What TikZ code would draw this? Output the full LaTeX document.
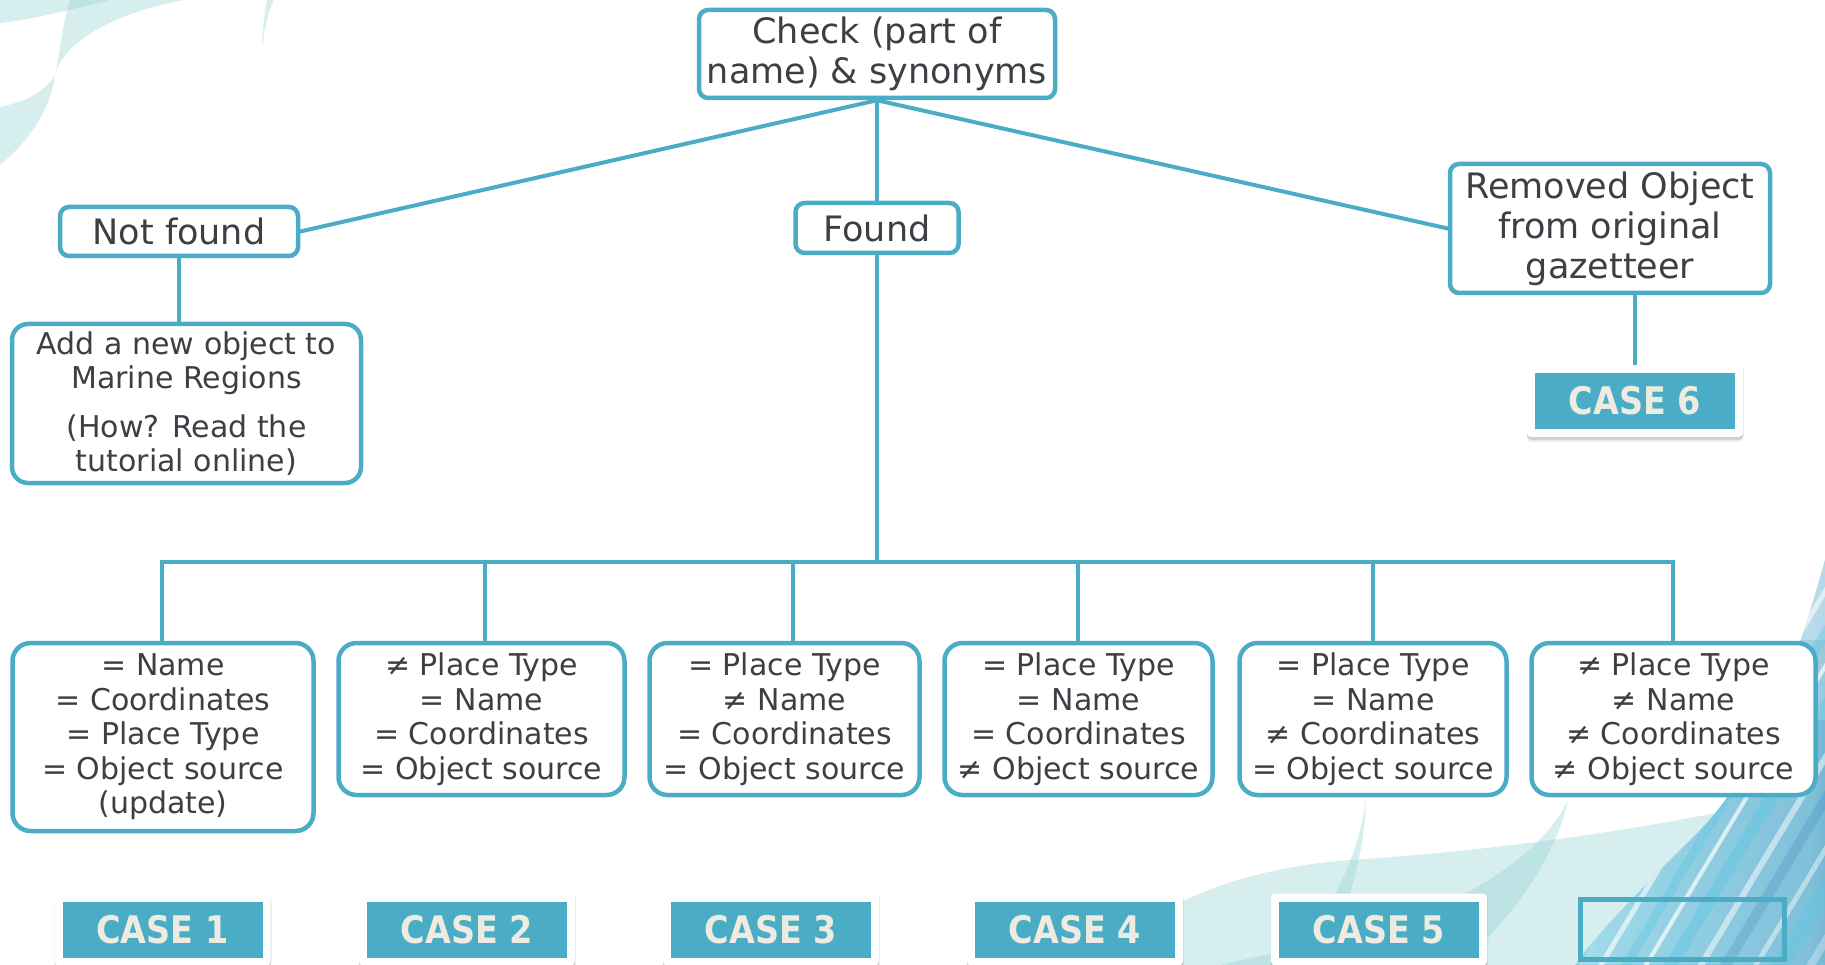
\documentclass[tikz,border=0pt]{standalone}
\usepackage{fontspec}
\setmainfont{DejaVu Sans}
\newfontfamily\badgefont[FakeStretch=0.88]{DejaVu Sans}
\definecolor{teal5}{HTML}{4BACC6}
\definecolor{ink}{HTML}{3C3F44}
\definecolor{cream}{HTML}{EEECE1}
\definecolor{wave}{HTML}{8CCFD0}
\definecolor{deepblue}{HTML}{2674AD}
\definecolor{midblue}{HTML}{9ED9E8}
\definecolor{cyanline}{HTML}{5CC8E2}
\pgfdeclarehorizontalshading{streakshade}{100bp}{color(0bp)=(white); color(30bp)=(midblue); color(72bp)=(midblue!75!deepblue); color(100bp)=(deepblue)}
\pgfdeclarelayer{backdrop}
\pgfdeclarelayer{wires}
\pgfsetlayers{backdrop,wires,main}
\begin{document}
\begin{tikzpicture}[x=1pt,y=-1pt,
  box/.style={draw=teal5, line width=4.5pt, fill=white, text=ink, align=center, inner sep=0pt},
  topbox/.style={box, rounded corners=9pt, font=\fontsize{35}{40}\selectfont},
  addbox/.style={box, rounded corners=16pt, font=\fontsize{30}{34}\selectfont},
  leafbox/.style={box, rounded corners=18pt, font=\fontsize{30}{34.5}\selectfont},
  wire/.style={draw=teal5, line width=4pt, line cap=rect},
  frame/.style={fill=white, rounded corners=4pt, minimum width=216pt, minimum height=72pt, inner sep=0pt,
    preaction={fill=black, fill opacity=0.07, transform canvas={yshift=-5pt}},
    preaction={fill=black, fill opacity=0.10, transform canvas={yshift=-3pt}},
    preaction={fill=black, fill opacity=0.08, transform canvas={xshift=1pt,yshift=-1pt}}},
  badge/.style={fill=teal5, text=cream, minimum width=200pt, minimum height=56pt, inner sep=0pt,
    font=\badgefont\bfseries\fontsize{38}{38}\selectfont},
  wavefill/.style={fill=wave, fill opacity=0.35}
]
\useasboundingbox (0,0) rectangle (1825,965);

% ---------- backdrop ----------
\begin{pgfonlayer}{backdrop}
  % swooshes in the upper left corner
  \fill[wavefill] (0,0) -- (0,23) .. controls (30,20) and (70,10) .. (110,0) -- cycle;
  \fill[wavefill] (70,0) .. controls (62,25) and (60,55) .. (55,75)
     .. controls (45,92) and (25,102) .. (0,107) -- (0,165)
     .. controls (30,140) and (50,110) .. (55,75)
     .. controls (60,50) and (100,15) .. (185,0) -- cycle;
  \fill[wavefill] (267,0) .. controls (264,15) and (262,35) .. (262,48)
     .. controls (264,30) and (268,12) .. (274,0) -- cycle;
  % swooshes along the bottom
  \fill[wavefill] (1095,965) .. controls (1140,915) and (1220,870) .. (1350,860)
     .. controls (1500,850) and (1650,830) .. (1825,790) -- (1825,965) -- cycle;
  \fill[wavefill] (1568,800) .. controls (1545,850) and (1480,890) .. (1420,915)
     .. controls (1330,945) and (1260,955) .. (1220,965)
     -- (1460,965) .. controls (1510,920) and (1555,860) .. (1568,800) -- cycle;
  \fill[wavefill] (1366,800) .. controls (1364,860) and (1345,920) .. (1320,965)
     -- (1290,965) .. controls (1330,910) and (1358,860) .. (1366,800) -- cycle;
  % blue streaks in the lower right corner
  \begin{scope}
    \clip (1825,560) .. controls (1800,650) and (1760,770) .. (1700,830)
       .. controls (1640,890) and (1600,930) .. (1575,965) -- (1825,965) -- cycle;
    \shade[shading=streakshade] (1575,560) rectangle (1825,965);
    \fill[white, fill opacity=0.45] (1700,560) rectangle (1825,640);
    \fill[white, fill opacity=0.25] (1700,640) rectangle (1825,720);
    \foreach \sx/\sw/\sc/\so in {1470/6/white/0.5, 1500/10/cyanline/0.4, 1525/4/white/0.7,
        1550/14/cyanline/0.35, 1580/5/white/0.6, 1605/9/cyanline/0.4, 1625/4/white/0.7,
        1650/12/cyanline/0.45, 1680/6/white/0.5, 1705/10/deepblue/0.2, 1735/5/white/0.45,
        1760/16/cyanline/0.4, 1790/8/white/0.3, 1815/14/deepblue/0.25}
      \draw[line width=\sw pt, color=\sc, opacity=\so] (\sx,1000) -- ++(300,-500);
  \end{scope}
\end{pgfonlayer}

% ---------- boxes ----------
\node[topbox, minimum width=356pt, minimum height=88pt] (check) at (877,54) {Check (part of\\name) \& synonyms};
\node[topbox, minimum width=238pt, minimum height=49pt] (notfound) at (179,231.5) {Not found};
\node[topbox, minimum width=163pt, minimum height=50pt] (found) at (877,228) {Found};
\node[topbox, minimum width=320pt, minimum height=129pt] (removed) at (1610,228.5) {Removed Object\\from original\\gazetteer};
\node[addbox, minimum width=349pt, minimum height=159pt] (add) at (186.5,403.5)
  {Add a new object to\\Marine Regions\\[15pt](How? Read the\\tutorial online)};

\node[leafbox, minimum width=301pt, minimum height=188pt] (b1) at (163,737)
  {= Name\\= Coordinates\\= Place Type\\= Object source\\(update)};
\node[leafbox, minimum width=286pt, minimum height=152pt] (b2) at (481.5,719)
  {≠ Place Type\\= Name\\= Coordinates\\= Object source};
\node[leafbox, minimum width=270pt, minimum height=152pt] (b3) at (784.5,719)
  {= Place Type\\≠ Name\\= Coordinates\\= Object source};
\node[leafbox, minimum width=268pt, minimum height=152pt] (b4) at (1078.5,719)
  {= Place Type\\= Name\\= Coordinates\\≠ Object source};
\node[leafbox, minimum width=267pt, minimum height=152pt] (b5) at (1373,719)
  {= Place Type\\= Name\\≠ Coordinates\\= Object source};
\node[leafbox, minimum width=284pt, minimum height=152pt] (b6) at (1673.5,719)
  {≠ Place Type\\≠ Name\\≠ Coordinates\\≠ Object source};

% ---------- case labels ----------
\node[frame] (f6) at (1635,401) {};
\node[badge] (c6) at (1635,401) {CASE 6};
\foreach \k/\cx in {1/162.5, 2/467, 3/771, 4/1075, 5/1379} {
  \node[frame] (f\k) at (\cx,929.5) {};
  \node[badge] (c\k) at (\cx,929.5) {CASE \k};
}
\node[draw=teal5, line width=5pt, minimum width=204pt, minimum height=60pt, inner sep=0pt] (c7) at (1682.5,929.5) {};

% ---------- connectors ----------
\coordinate (busL) at (162,562);
\coordinate (busR) at (1673,562);
\coordinate (d1) at (162,562);
\coordinate (d2) at (485,562);
\coordinate (d3) at (793,562);
\coordinate (d4) at (1078,562);
\coordinate (d5) at (1373,562);
\coordinate (d6) at (1673,562);
\begin{pgfonlayer}{wires}
  \draw[wire] (check.south) -- (notfound.east);
  \draw[wire] (check.south) -- (removed.west);
  \draw[wire] (check.south) -- (found.north);
  \draw[wire] (notfound.south) -- (notfound.south |- add.north);
  \draw[wire] (f6.north |- removed.south) -- (f6.north);
  \draw[wire] (found.south) -- (found.south |- busL);
  \draw[wire] (busL) -- (busR);
  \foreach \i in {1,...,6}
    \draw[wire] (d\i) -- (d\i |- b\i.north);
\end{pgfonlayer}
\end{tikzpicture}
\end{document}
